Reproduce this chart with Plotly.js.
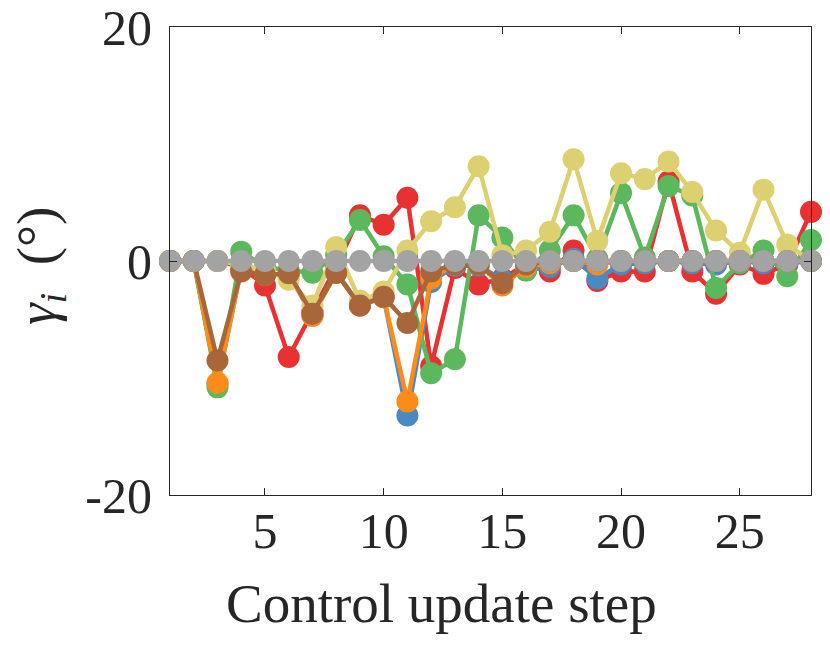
<!DOCTYPE html>
<html>
<head>
<meta charset="utf-8">
<script src="https://cdn.plot.ly/plotly-3.0.1.min.js"></script>
<style>
  html, body { margin: 0; padding: 0; background: #fff; }
  #chart { width: 830px; height: 645px; }
</style>
</head>
<body>
<div id="chart"></div>
<script>
const steps = [1, 2, 3, 4, 5, 6, 7, 8, 9, 10, 11, 12, 13, 14, 15, 16, 17, 18, 19, 20, 21, 22, 23, 24, 25, 26, 27, 28];

const redVals    = [0, 0, 0, -0.5, -2.1, -8.2, -4.3, -0.5, 3.9, 3.1, 5.4, -9.0, -0.6, -2.0, -1.5, -0.3, -0.9, 0.9, -1.7, -0.9, -0.9, 6.8, -0.9, -2.8, -0.3, -1.1, -0.3, 4.2];
const blueVals   = [0, 0, -10.5, -0.6, -1.2, -1.1, -4.6, -1.0, -3.8, -3.1, -13.2, -1.8, -0.4, -0.4, -1.6, -0.8, -0.5, 0.2, -1.5, -0.3, -0.2, 0, -0.2, -0.3, 0, -0.2, -0.2, 0];
const greenVals  = [0, 0, -10.8, 0.8, -0.5, -0.8, -1.0, 0.5, 3.5, 0.4, -2.0, -9.6, -8.4, 3.9, 2.0, -0.8, 0.9, 3.9, 0.2, 5.8, 0.3, 6.4, 5.6, -2.3, -0.2, 0.9, -1.3, 1.8];
const orangeVals = [0, 0, -10.4, -0.7, -1.2, -1.1, -4.7, -1.0, -3.8, -3.1, -12.0, -1.5, -0.3, -0.3, -2.1, -0.5, -0.2, 0, -0.3, 0, 0, 0, 0, 0, 0, 0, 0, 0];
const yellowVals = [0, 0, 0, -0.3, -0.8, -1.6, -3.8, 1.2, -3.4, -2.6, 0.9, 3.4, 4.6, 8.1, 0.5, 0.9, 2.5, 8.7, 1.7, 7.5, 7.0, 8.5, 5.9, 2.6, 0.7, 6.1, 1.4, 0];
const brownVals  = [0, 0, -8.5, -0.9, -1.2, -1.05, -4.5, -1.0, -3.8, -3.05, -5.3, -0.9, -0.3, -0.3, -1.9, -0.3, 0, 0, 0, 0, 0, 0, 0, 0, 0, 0, 0, 0];
const grayVals   = [0, 0, 0, 0, 0, 0, 0, 0, 0, 0, 0, 0, 0, 0, 0, 0, 0, 0, 0, 0, 0, 0, 0, 0, 0, 0, 0, 0];

const xTicks = [5, 10, 15, 20, 25];
const yTicks = [-20, 0, 20];
const yTickText = ['-20', '0', '20'];

// drawing order matters: later traces sit on top
const seriesList = [
    { y: redVals, color: '#e83232' },
    { y: blueVals, color: '#4a8ac4' },
    { y: greenVals, color: '#5cb85c' },
    { y: orangeVals, color: '#ff8c1a' },
    { y: yellowVals, color: '#ddd070' },
    { y: brownVals, color: '#a8663a' },
    { y: grayVals, color: '#a3a3a3' },
]

const traces = seriesList.map(s => ({
    x: steps,
    y: s.y,
    type: 'scatter',
    mode: 'lines+markers',
    line: { color: s.color, width: 4.5 },
    marker: { color: s.color, size: 22 },
    hoverinfo: 'none',
    cliponaxis: false
}))

const axisFont = { family: 'Liberation Serif, Times New Roman, serif', size: 50, color: '#262626' }
const labelFont = { family: 'Liberation Serif, Times New Roman, serif', size: 55, color: '#262626' }

const layout = {
    width: 830,
    height: 645,
    paper_bgcolor: '#ffffff',
    plot_bgcolor: '#ffffff',
    margin: { l: 170, r: 19, t: 27, b: 150 },
    showlegend: false,
    xaxis: {
        range: [1, 28],
        tickvals: xTicks,
        ticks: 'inside',
        ticklen: 7,
        tickwidth: 1,
        tickcolor: '#262626',
        showline: true,
        linecolor: '#262626',
        linewidth: 1,
        mirror: 'ticks',
        showgrid: false,
        zeroline: false,
        tickfont: axisFont,
        ticklabelstandoff: -8,
        ticklabeloverflow: 'allow'
    },
    yaxis: {
        range: [-20, 20],
        tickvals: yTicks,
        ticktext: yTickText,
        ticks: 'inside',
        ticklen: 7,
        tickwidth: 1,
        tickcolor: '#262626',
        showline: true,
        linecolor: '#262626',
        linewidth: 1,
        mirror: 'ticks',
        showgrid: false,
        zeroline: false,
        tickfont: axisFont,
        ticklabelstandoff: 7,
        ticklabeloverflow: 'allow'
    },
    annotations: [
        {
            text: 'Control update step',
            xref: 'paper', yref: 'paper',
            x: 0.4228, y: -0.231,
            xanchor: 'center', yanchor: 'middle',
            showarrow: false,
            font: labelFont
        },
        {
            text: '<i>γ<sub>i</sub></i>  (°)',
            xref: 'paper', yref: 'paper',
            x: -0.203, y: 0.491,
            xanchor: 'center', yanchor: 'middle',
            textangle: -90,
            showarrow: false,
            font: labelFont
        }
    ]
}

const config = {
    displayModeBar: false,
    staticPlot: true
}

Plotly.newPlot('chart', traces, layout, config)
</script>
</body>
</html>
